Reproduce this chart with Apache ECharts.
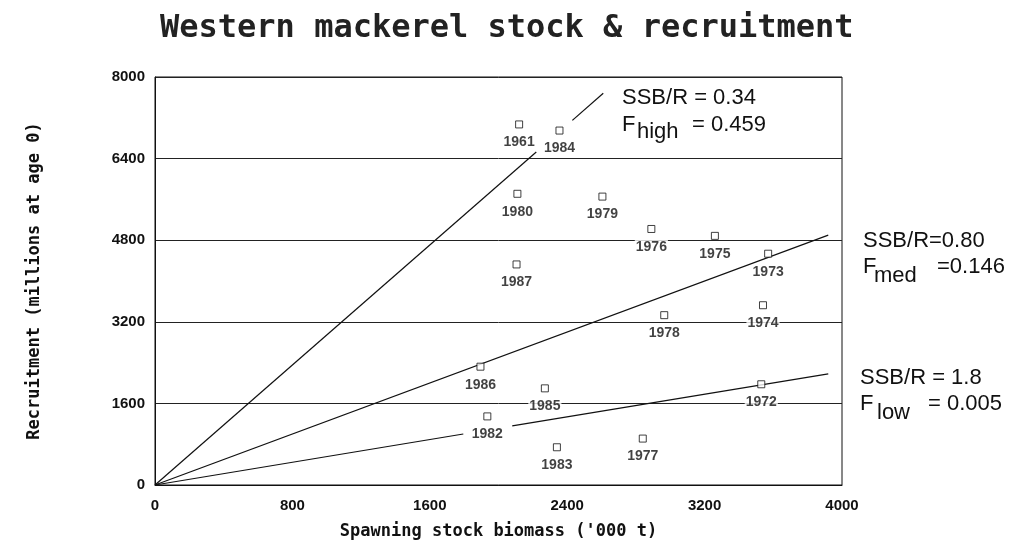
<!DOCTYPE html>
<html>
<head>
<meta charset="utf-8">
<title>Western mackerel stock & recruitment</title>
<script src="https://cdn.jsdelivr.net/npm/echarts@6/dist/echarts.min.js"></script>
<style>
  html, body { margin: 0; padding: 0; background: #fff; }
  #chart { width: 1022px; height: 546px; }
</style>
</head>
<body>
<div id="chart"></div>
<script>
// year of each point, spawning stock biomass ('000 t), recruitment (millions at age 0)
const years = ['1961', '1984', '1980', '1979', '1976', '1975', '1973', '1987',
  '1978', '1974', '1986', '1985', '1972', '1982', '1983', '1977']
const ssb = [2120, 2355, 2110, 2605, 2890, 3260, 3570, 2105,
  2965, 3540, 1895, 2270, 3530, 1935, 2340, 2840]
const recruits = [7070, 6950, 5710, 5655, 5020, 4885, 4535, 4325,
  3330, 3525, 2320, 1895, 1975, 1345, 740, 910]

// SSB/R reference lines (breaks where the year labels sit)
const highLine = [[[0, 0], [2220, 6530]], [[2430, 7150], [2610, 7680]]]
const medLine = [[[0, 0], [3920, 4900]]]
const lowLine = [[[0, 0], [1795, 1000]], [[2080, 1160], [3920, 2180]]]

const chart = echarts.init(document.getElementById('chart'))

const tickFont = { fontFamily: 'Liberation Sans, Arial, sans-serif', fontWeight: 'bold', fontSize: 15, color: '#111' }
const nameFont = { fontFamily: 'DejaVu Sans Mono, monospace', fontWeight: 'bold', fontSize: 17, color: '#111' }
const noteFont = 'Liberation Sans, Arial, sans-serif'

// one line series per segment
const lineSeries = []
;[highLine, medLine, lowLine].forEach(segs => {
  segs.forEach(seg => {
    lineSeries.push({
      type: 'line',
      data: seg,
      symbol: 'none',
      silent: true,
      lineStyle: { color: '#111', width: 1.2 },
      z: 2
    })
  })
})

// annotation text (F with lowered subscript)
const note = (text, left, top, size) => ({
  type: 'text',
  left: left,
  top: top,
  style: { text: text, fontFamily: noteFont, fontSize: size || 22, fill: '#111' }
})

const option = {
  animation: false,
  backgroundColor: '#fff',
  title: {
    text: 'Western mackerel stock & recruitment',
    left: 160,
    top: 13,
    padding: 0,
    textStyle: { fontFamily: 'DejaVu Sans Mono, monospace', fontWeight: 'bold', fontSize: 32, color: '#222' }
  },
  grid: {
    left: 155, right: 180, top: 77, bottom: 61,
    show: true, borderColor: '#111', borderWidth: 1
  },
  xAxis: {
    type: 'value',
    min: 0, max: 4000, interval: 800,
    name: "Spawning stock biomass ('000 t)",
    nameLocation: 'middle',
    nameGap: 38,
    nameTextStyle: nameFont,
    axisLine: { show: true, lineStyle: { color: '#111' } },
    axisTick: { show: false },
    splitLine: { show: false },
    axisLabel: Object.assign({ margin: 13, formatter: v => String(v) }, tickFont)
  },
  yAxis: {
    type: 'value',
    min: 0, max: 8000, interval: 1600,
    name: 'Recruitment (millions at age 0)',
    nameLocation: 'middle',
    nameGap: 112,
    nameRotate: 90,
    nameTextStyle: nameFont,
    axisLine: { show: true, lineStyle: { color: '#111' } },
    axisTick: { show: false },
    splitLine: { show: true, lineStyle: { color: '#222', width: 1 } },
    axisLabel: Object.assign({ margin: 10, formatter: v => String(v) }, tickFont)
  },
  graphic: [
    note('SSB/R = 0.34', 622, 87),
    note('F', 622, 114),
    note('high', 637, 121),
    note('= 0.459', 692, 114),
    note('SSB/R=0.80', 863, 230),
    note('F', 863, 256),
    note('med', 874, 265),
    note('=0.146', 937, 256),
    note('SSB/R = 1.8', 860, 367),
    note('F', 860, 393),
    note('low', 877, 402),
    note('= 0.005', 928, 393)
  ],
  series: lineSeries.concat([
    {
      type: 'scatter',
      data: ssb.map((x, i) => [x, recruits[i], years[i]]),
      symbol: 'rect',
      symbolSize: 7,
      itemStyle: { color: '#fff', borderColor: '#111', borderWidth: 1 },
      label: {
        show: true,
        position: 'bottom',
        distance: 7,
        formatter: p => p.data[2],
        fontFamily: 'Liberation Sans, Arial, sans-serif',
        fontWeight: 'bold',
        fontSize: 14,
        color: '#111',
        backgroundColor: '#fff',
        padding: [0, 1]
      },
      z: 3
    }
  ])
}

chart.setOption(option)
</script>
</body>
</html>
